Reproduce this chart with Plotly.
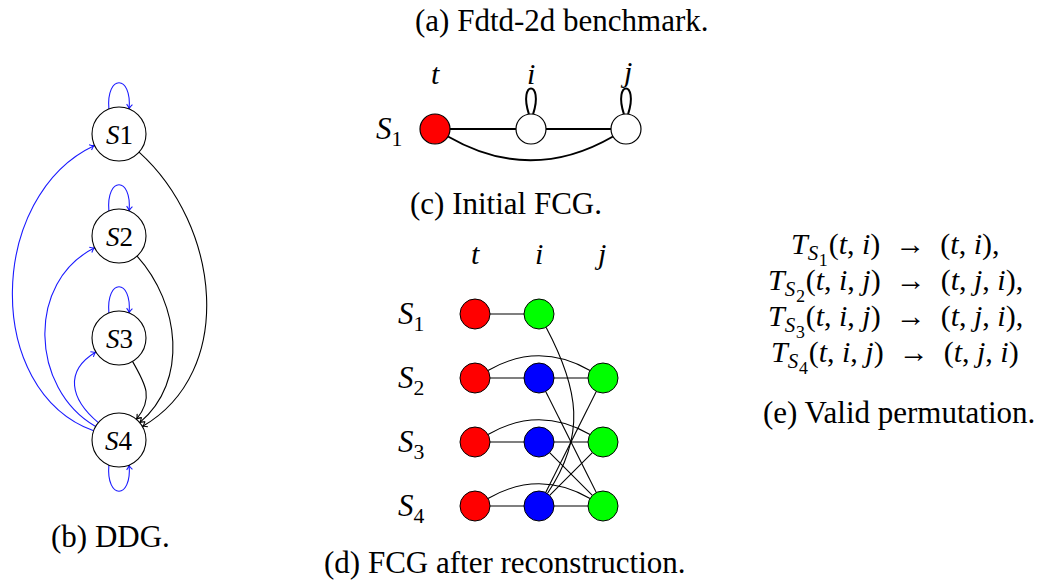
import math
import plotly.graph_objects as go

W, H = 1045, 581
FONT = "Liberation Serif"

# ---------------- (b) DDG ----------------
ddg_names = ["S1", "S2", "S3", "S4"]
ddg_x = [119, 119, 119, 119]
ddg_y = [134, 236, 338, 440]
ddg_r = 27
# blue back edges: source, target, out angle, in angle, looseness (px)
ddg_blue_src = ["S4", "S4", "S4"]
ddg_blue_dst = ["S1", "S2", "S3"]
ddg_blue_out = [160, 150, 140]
ddg_blue_in = [205, 206, 211]
ddg_blue_len = [118, 76, 37]
# black forward edges
ddg_black_src = ["S1", "S2", "S3"]
ddg_black_dst = ["S4", "S4", "S4"]
ddg_black_out = [-42, -48, -60]
ddg_black_in = [30, 40, 50]
ddg_black_len = [109, 64, 27]
# self loops
ddg_loop_nodes = ["S1", "S2", "S3", "S4"]
ddg_loop_side = ["above", "above", "above", "below"]

# ---------------- (c) Initial FCG ----------------
fcg0_vars = ["t", "i", "j"]
fcg0_x = [435, 531, 626]
fcg0_y = [129, 129, 129]
fcg0_label_y = [73, 73, 71]
fcg0_fill = ["#ff0000", "#ffffff", "#ffffff"]
fcg0_loops = ["i", "j"]
fcg0_row = "S1"
fcg0_r = 15

# ---------------- (d) FCG after reconstruction ----------------
fcg_cols = ["t", "i", "j"]
fcg_col_x = [475, 539, 603]
fcg_rows = ["S1", "S2", "S3", "S4"]
fcg_row_y = [314, 378, 442, 506]
fcg_fill = [
    ["#ff0000", "#00ff00", None],
    ["#ff0000", "#0000ff", "#00ff00"],
    ["#ff0000", "#0000ff", "#00ff00"],
    ["#ff0000", "#0000ff", "#00ff00"],
]
fcg_r = 15
# cross-row edges (row, col) -> (row, col)
fcg_cross_src = [(0, 1), (1, 1), (1, 2), (2, 1), (2, 2)]
fcg_cross_dst = [(3, 1), (3, 2), (3, 1), (3, 2), (3, 1)]
fcg_cross_bend = [True, False, False, False, False]

# ---------------- (e) text ----------------
ARR = "&nbsp;&nbsp;→&nbsp;&nbsp;"
SUBD = "<span style='font-size:30px'>%s</span>"
perm_lines = [
    "<i>T</i><sub><i>S</i>" + SUBD % "₁" + "</sub>(<i>t</i>,&nbsp;<i>i</i>)" + ARR + "(<i>t</i>,&nbsp;<i>i</i>),",
    "<i>T</i><sub><i>S</i>" + SUBD % "₂" + "</sub>(<i>t</i>,&nbsp;<i>i</i>,&nbsp;<i>j</i>)" + ARR + "(<i>t</i>,&nbsp;<i>j</i>,&nbsp;<i>i</i>),",
    "<i>T</i><sub><i>S</i>" + SUBD % "₃" + "</sub>(<i>t</i>,&nbsp;<i>i</i>,&nbsp;<i>j</i>)" + ARR + "(<i>t</i>,&nbsp;<i>j</i>,&nbsp;<i>i</i>),",
    "<i>T</i><sub><i>S</i>" + SUBD % "₄" + "</sub>(<i>t</i>,&nbsp;<i>i</i>,&nbsp;<i>j</i>)" + ARR + "(<i>t</i>,&nbsp;<i>j</i>,&nbsp;<i>i</i>)",
]
perm_x = 895
perm_y = [246, 282, 318, 354]

captions = ["(a) Fdtd-2d benchmark.", "(b) DDG.", "(c) Initial FCG.",
            "(d) FCG after reconstruction.", "(e) Valid permutation."]
caption_x = [562, 110, 506, 505, 899]
caption_y = [20, 536, 203, 562, 412]

# ---------------- helpers ----------------
shapes = []
annotations = []


def pol(cx, cy, r, ang):
    a = math.radians(ang)
    return cx + r * math.cos(a), cy - r * math.sin(a)


def bezier_path(p0, p1, p2, p3):
    return "M %.2f %.2f C %.2f %.2f %.2f %.2f %.2f %.2f" % (p0 + p1 + p2 + p3)


def arrow_head(tip, frm, color, width, size=5.5, spread=32):
    dx, dy = tip[0] - frm[0], tip[1] - frm[1]
    n = math.hypot(dx, dy)
    ux, uy = dx / n, dy / n
    pts = []
    for s in (spread, -spread):
        a = math.radians(s)
        rx = ux * math.cos(a) - uy * math.sin(a)
        ry = ux * math.sin(a) + uy * math.cos(a)
        pts.append((tip[0] - size * rx, tip[1] - size * ry))
    path = "M %.2f %.2f Q %.2f %.2f %.2f %.2f Q %.2f %.2f %.2f %.2f" % (
        pts[0][0], pts[0][1],
        tip[0] - 1.5 * ux, tip[1] - 1.5 * uy, tip[0], tip[1],
        tip[0] - 1.5 * ux, tip[1] - 1.5 * uy, pts[1][0], pts[1][1])
    shapes.append(dict(type="path", path=path, line=dict(color=color, width=width)))


def curve_edge(c0, r0, out_a, c1, r1, in_a, d, color, width, arrow=False,
               out_dir=None, in_dir=None):
    if out_dir is None:
        out_dir = out_a
    if in_dir is None:
        in_dir = in_a
    p0 = pol(c0[0], c0[1], r0, out_a)
    p3 = pol(c1[0], c1[1], r1, in_a)
    p1 = pol(p0[0], p0[1], d, out_dir)
    p2 = pol(p3[0], p3[1], d, in_dir)
    shapes.append(dict(type="path", path=bezier_path(p0, p1, p2, p3),
                       line=dict(color=color, width=width)))
    if arrow:
        arrow_head(p3, p2, color, width)


def straight_edge(c0, c1, r, color, width):
    dx, dy = c1[0] - c0[0], c1[1] - c0[1]
    n = math.hypot(dx, dy)
    ux, uy = dx / n, dy / n
    shapes.append(dict(type="line", x0=c0[0] + r * ux, y0=c0[1] + r * uy,
                       x1=c1[0] - r * ux, y1=c1[1] - r * uy,
                       line=dict(color=color, width=width)))


def node(cx, cy, r, fill, lw=1):
    shapes.append(dict(type="circle", x0=cx - r, x1=cx + r, y0=cy - r, y1=cy + r,
                       fillcolor=fill, line=dict(color="black", width=lw)))


def text(x, y, s, size=28):
    annotations.append(dict(x=x, y=y, text=s, showarrow=False, xanchor="center",
                            yanchor="middle", font=dict(family=FONT, size=size, color="black")))


def sub_label(name):
    return "<i>%s</i><sub>%s</sub>" % (name[0], name[1:])


# ---------------- draw (b) ----------------
ddg_pos = {n: (x, y) for n, x, y in zip(ddg_names, ddg_x, ddg_y)}
for s, t, o, i, d in zip(ddg_blue_src, ddg_blue_dst, ddg_blue_out, ddg_blue_in, ddg_blue_len):
    curve_edge(ddg_pos[s], ddg_r, o, ddg_pos[t], ddg_r, i, d, "#1a1aff", 1.1, arrow=True)
for s, t, o, i, d in zip(ddg_black_src, ddg_black_dst, ddg_black_out, ddg_black_in, ddg_black_len):
    curve_edge(ddg_pos[s], ddg_r, o, ddg_pos[t], ddg_r, i, d, "black", 1.1, arrow=True)
for n, side in zip(ddg_loop_nodes, ddg_loop_side):
    sg = 1 if side == "above" else -1
    curve_edge(ddg_pos[n], ddg_r, sg * 112, ddg_pos[n], ddg_r, sg * 68, 35, "#1a1aff", 1.1,
               arrow=True, out_dir=sg * 95, in_dir=sg * 85)
for n in ddg_names:
    cx, cy = ddg_pos[n]
    node(cx, cy, ddg_r, "white", 1.1)
    text(cx, cy + 1, "<i>%s</i>%s" % (n[0], n[1:]), 27)

# ---------------- draw (c) ----------------
p0 = {v: (x, y) for v, x, y in zip(fcg0_vars, fcg0_x, fcg0_y)}
straight_edge(p0["t"], p0["i"], fcg0_r, "black", 2)
straight_edge(p0["i"], p0["j"], fcg0_r, "black", 2)
curve_edge(p0["t"], fcg0_r, -30, p0["j"], fcg0_r, 210, 63, "black", 2)
for v in fcg0_loops:
    curve_edge(p0[v], fcg0_r, 98, p0[v], fcg0_r, 82, 36, "black", 2,
               out_dir=108, in_dir=72)
for v, f, ly in zip(fcg0_vars, fcg0_fill, fcg0_label_y):
    node(p0[v][0], p0[v][1], fcg0_r, f, 1.2)
    text(p0[v][0], ly, "<i>%s</i>" % v, 30)
text(389, 131, sub_label(fcg0_row), 31)

# ---------------- draw (d) ----------------
def cpos(rc):
    return (fcg_col_x[rc[1]], fcg_row_y[rc[0]])


for ri, row in enumerate(fcg_fill):
    present = [ci for ci, f in enumerate(row) if f]
    for a, b in zip(present[:-1], present[1:]):
        straight_edge(cpos((ri, a)), cpos((ri, b)), fcg_r, "black", 1.1)
    if len(present) == 3:
        curve_edge(cpos((ri, 0)), fcg_r, 30, cpos((ri, 2)), fcg_r, 150, 39, "black", 1.1)
for s, t, bend in zip(fcg_cross_src, fcg_cross_dst, fcg_cross_bend):
    if bend:
        curve_edge(cpos(s), fcg_r, -62, cpos(t), fcg_r, 56, 70, "black", 1.1)
    else:
        straight_edge(cpos(s), cpos(t), fcg_r, "black", 1.1)
for ri, row in enumerate(fcg_fill):
    for ci, f in enumerate(row):
        if f:
            x, y = cpos((ri, ci))
            node(x, y, fcg_r, f, 1)
    text(411, fcg_row_y[ri] + 2, sub_label(fcg_rows[ri]), 31)
for ci, v in enumerate(fcg_cols):
    text(fcg_col_x[ci] - (3 if v == "j" else 0), 253, "<i>%s</i>" % v, 30)

# ---------------- draw (e) ----------------
for s, y in zip(perm_lines, perm_y):
    text(perm_x, y, s, 30)

for s, x, y in zip(captions, caption_x, caption_y):
    text(x, y, s, 31)

fig = go.Figure()
fig.update_layout(
    width=W, height=H, margin=dict(l=0, r=0, t=0, b=0),
    paper_bgcolor="white", plot_bgcolor="white",
    xaxis=dict(range=[0, W], visible=False, fixedrange=True),
    yaxis=dict(range=[H, 0], visible=False, fixedrange=True),
    shapes=shapes, annotations=annotations, showlegend=False,
)
fig.write_html("out.html", config={"displayModeBar": False})
